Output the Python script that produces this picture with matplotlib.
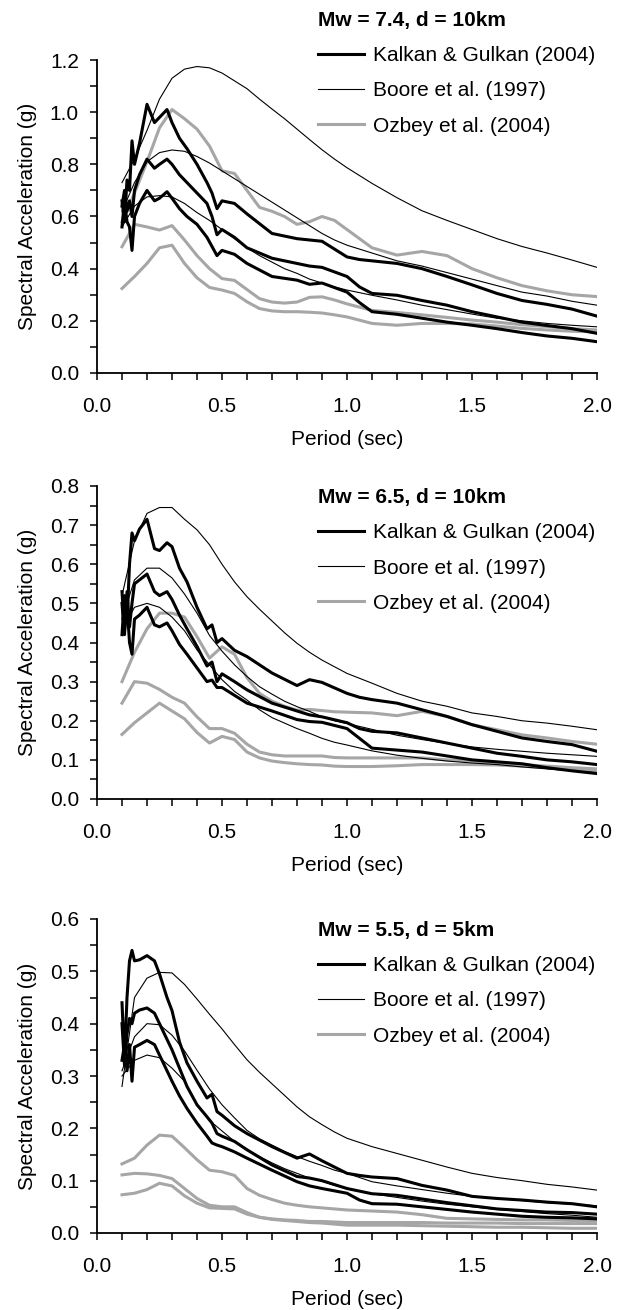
import numpy as np
import matplotlib.pyplot as plt
from matplotlib.ticker import MultipleLocator, FormatStrFormatter

plt.rcParams['font.family'] = ['Liberation Sans', 'DejaVu Sans']

# period grids (sec)
t_kalkan = [0.10, 0.11, 0.12, 0.13, 0.14, 0.15, 0.17, 0.20, 0.23, 0.25, 0.28, 0.30,
            0.33, 0.36, 0.40, 0.44, 0.46, 0.48, 0.50, 0.55, 0.60, 0.70, 0.80, 0.85,
            0.90, 1.00, 1.05, 1.10, 1.20, 1.30, 1.40, 1.50, 1.60, 1.70, 1.80, 1.90, 2.00]
t_smooth = [0.10, 0.15, 0.20, 0.25, 0.30, 0.35, 0.40, 0.45, 0.50, 0.55, 0.60, 0.65,
            0.70, 0.75, 0.80, 0.85, 0.90, 0.95, 1.00, 1.10, 1.20, 1.30, 1.40, 1.50,
            1.60, 1.70, 1.80, 1.90, 2.00]

# ---- Mw = 7.4, d = 10km
k1_74 = [0.66, 0.58, 0.74, 0.70, 0.89, 0.80, 0.88, 1.03, 0.96, 0.98, 1.01, 0.96, 0.90, 0.86,
         0.80, 0.73, 0.69, 0.63, 0.66, 0.65, 0.61, 0.535, 0.515, 0.51, 0.505, 0.445, 0.435,
         0.43, 0.42, 0.40, 0.37, 0.338, 0.305, 0.278, 0.263, 0.245, 0.218]
k2_74 = [0.64, 0.70, 0.62, 0.66, 0.60, 0.70, 0.76, 0.82, 0.785, 0.80, 0.82, 0.80, 0.76, 0.73,
         0.69, 0.65, 0.60, 0.53, 0.55, 0.52, 0.48, 0.44, 0.42, 0.41, 0.405, 0.37, 0.33,
         0.305, 0.298, 0.278, 0.26, 0.235, 0.215, 0.195, 0.182, 0.17, 0.152]
k3_74 = [0.56, 0.66, 0.58, 0.56, 0.47, 0.60, 0.65, 0.70, 0.66, 0.67, 0.695, 0.67, 0.63, 0.60,
         0.57, 0.52, 0.485, 0.45, 0.47, 0.455, 0.42, 0.37, 0.356, 0.34, 0.345, 0.31, 0.27,
         0.235, 0.225, 0.21, 0.195, 0.183, 0.17, 0.155, 0.142, 0.133, 0.12]
b1_74 = [0.73, 0.82, 0.93, 1.05, 1.13, 1.165, 1.175, 1.17, 1.15, 1.12, 1.09, 1.05, 1.012, 0.975,
         0.935, 0.895, 0.856, 0.82, 0.787, 0.727, 0.672, 0.622, 0.585, 0.55, 0.515, 0.485,
         0.46, 0.433, 0.405]
b2_74 = [0.62, 0.73, 0.81, 0.845, 0.855, 0.85, 0.83, 0.805, 0.775, 0.745, 0.715, 0.685, 0.655,
         0.625, 0.595, 0.565, 0.535, 0.51, 0.49, 0.46, 0.43, 0.41, 0.385, 0.36, 0.335, 0.31,
         0.295, 0.275, 0.26]
b3_74 = [0.56, 0.64, 0.675, 0.68, 0.675, 0.65, 0.615, 0.585, 0.55, 0.515, 0.48, 0.45, 0.425,
         0.40, 0.382, 0.36, 0.345, 0.33, 0.318, 0.298, 0.28, 0.26, 0.243, 0.226, 0.21, 0.20,
         0.19, 0.183, 0.177]
o1_74 = [0.58, 0.69, 0.81, 0.94, 1.01, 0.975, 0.935, 0.87, 0.775, 0.765, 0.70, 0.635, 0.62,
         0.60, 0.57, 0.58, 0.60, 0.585, 0.55, 0.48, 0.452, 0.466, 0.45, 0.40, 0.365, 0.335,
         0.315, 0.30, 0.293]
o2_74 = [0.484, 0.57, 0.56, 0.548, 0.565, 0.51, 0.45, 0.40, 0.362, 0.355, 0.32, 0.285, 0.272,
         0.268, 0.272, 0.29, 0.292, 0.28, 0.265, 0.24, 0.232, 0.223, 0.213, 0.203, 0.195,
         0.185, 0.178, 0.17, 0.165]
o3_74 = [0.324, 0.37, 0.42, 0.48, 0.49, 0.42, 0.365, 0.328, 0.318, 0.305, 0.273, 0.247, 0.238,
         0.235, 0.235, 0.233, 0.23, 0.223, 0.215, 0.19, 0.183, 0.19, 0.19, 0.188, 0.18, 0.171,
         0.165, 0.16, 0.158]

# ---- Mw = 6.5, d = 10km
k1_65 = [0.42, 0.52, 0.45, 0.60, 0.68, 0.66, 0.69, 0.715, 0.64, 0.635, 0.655, 0.645, 0.59,
         0.555, 0.49, 0.435, 0.445, 0.40, 0.41, 0.38, 0.364, 0.322, 0.29, 0.305, 0.298, 0.27,
         0.26, 0.254, 0.245, 0.228, 0.211, 0.19, 0.173, 0.156, 0.147, 0.139, 0.122]
k2_65 = [0.50, 0.42, 0.53, 0.44, 0.50, 0.55, 0.56, 0.575, 0.53, 0.52, 0.53, 0.51, 0.47, 0.435,
         0.39, 0.34, 0.35, 0.30, 0.32, 0.30, 0.279, 0.245, 0.225, 0.215, 0.21, 0.195, 0.18,
         0.173, 0.169, 0.156, 0.143, 0.13, 0.117, 0.109, 0.10, 0.095, 0.088]
k3_65 = [0.53, 0.43, 0.50, 0.40, 0.37, 0.46, 0.47, 0.49, 0.445, 0.44, 0.45, 0.43, 0.395, 0.37,
         0.335, 0.30, 0.304, 0.285, 0.285, 0.265, 0.245, 0.225, 0.203, 0.198, 0.196, 0.18,
         0.155, 0.13, 0.125, 0.12, 0.11, 0.10, 0.095, 0.09, 0.08, 0.072, 0.065]
b1_65 = [0.52, 0.66, 0.73, 0.745, 0.745, 0.715, 0.688, 0.65, 0.60, 0.555, 0.517, 0.485, 0.455,
         0.425, 0.398, 0.375, 0.355, 0.338, 0.321, 0.296, 0.27, 0.25, 0.237, 0.22, 0.211,
         0.20, 0.194, 0.186, 0.177]
b2_65 = [0.46, 0.56, 0.59, 0.59, 0.565, 0.524, 0.475, 0.418, 0.378, 0.343, 0.313, 0.287, 0.268,
         0.25, 0.236, 0.224, 0.21, 0.20, 0.193, 0.178, 0.163, 0.152, 0.142, 0.133, 0.127,
         0.122, 0.117, 0.113, 0.109]
b3_65 = [0.43, 0.49, 0.50, 0.49, 0.465, 0.43, 0.381, 0.343, 0.305, 0.275, 0.253, 0.228, 0.208,
         0.194, 0.18, 0.168, 0.155, 0.145, 0.138, 0.123, 0.112, 0.104, 0.097, 0.092, 0.088,
         0.082, 0.077, 0.072, 0.067]
o1_65 = [0.30, 0.375, 0.435, 0.475, 0.475, 0.465, 0.415, 0.36, 0.389, 0.37, 0.31, 0.27, 0.25,
         0.237, 0.227, 0.229, 0.226, 0.223, 0.222, 0.22, 0.213, 0.224, 0.211, 0.19, 0.177,
         0.164, 0.156, 0.147, 0.14]
o2_65 = [0.245, 0.30, 0.296, 0.28, 0.26, 0.245, 0.21, 0.18, 0.18, 0.168, 0.14, 0.12, 0.113,
         0.11, 0.11, 0.11, 0.11, 0.106, 0.105, 0.105, 0.105, 0.105, 0.10, 0.097, 0.093, 0.088,
         0.084, 0.08, 0.077]
o3_65 = [0.165, 0.195, 0.22, 0.245, 0.225, 0.205, 0.17, 0.143, 0.16, 0.152, 0.12, 0.105, 0.097,
         0.093, 0.09, 0.088, 0.087, 0.084, 0.083, 0.083, 0.085, 0.088, 0.088, 0.088, 0.087,
         0.084, 0.08, 0.076, 0.072]

# ---- Mw = 5.5, d = 5km
k1_55 = [0.44, 0.33, 0.45, 0.52, 0.54, 0.52, 0.522, 0.53, 0.52, 0.495, 0.45, 0.425, 0.365,
         0.325, 0.29, 0.258, 0.265, 0.232, 0.225, 0.205, 0.19, 0.165, 0.143, 0.151, 0.138,
         0.114, 0.11, 0.107, 0.104, 0.091, 0.082, 0.07, 0.066, 0.063, 0.059, 0.056, 0.05]
k2_55 = [0.40, 0.32, 0.38, 0.41, 0.40, 0.42, 0.426, 0.43, 0.42, 0.40, 0.37, 0.35, 0.315, 0.28,
         0.245, 0.222, 0.21, 0.19, 0.185, 0.175, 0.159, 0.13, 0.108, 0.105, 0.10, 0.085, 0.08,
         0.075, 0.072, 0.065, 0.058, 0.052, 0.046, 0.043, 0.04, 0.039, 0.036]
k3_55 = [0.33, 0.36, 0.31, 0.36, 0.29, 0.355, 0.36, 0.368, 0.36, 0.34, 0.31, 0.29, 0.262,
         0.238, 0.21, 0.185, 0.172, 0.168, 0.165, 0.155, 0.143, 0.12, 0.098, 0.09, 0.085,
         0.076, 0.063, 0.056, 0.055, 0.05, 0.045, 0.04, 0.036, 0.032, 0.03, 0.029, 0.027]
b1_55 = [0.28, 0.45, 0.487, 0.498, 0.497, 0.475, 0.447, 0.418, 0.39, 0.36, 0.331, 0.307, 0.285,
         0.263, 0.241, 0.222, 0.207, 0.193, 0.181, 0.165, 0.152, 0.139, 0.126, 0.114, 0.106,
         0.10, 0.093, 0.088, 0.082]
b2_55 = [0.31, 0.375, 0.40, 0.398, 0.378, 0.348, 0.311, 0.275, 0.245, 0.22, 0.196, 0.18, 0.168,
         0.156, 0.146, 0.137, 0.129, 0.12, 0.114, 0.098, 0.09, 0.083, 0.076, 0.07, 0.066,
         0.062, 0.058, 0.055, 0.052]
b3_55 = [0.30, 0.33, 0.34, 0.335, 0.315, 0.29, 0.246, 0.215, 0.195, 0.175, 0.16, 0.146, 0.134,
         0.123, 0.114, 0.105, 0.099, 0.091, 0.085, 0.075, 0.068, 0.061, 0.055, 0.05, 0.045,
         0.041, 0.037, 0.034, 0.03]
o1_55 = [0.132, 0.143, 0.168, 0.187, 0.185, 0.163, 0.14, 0.12, 0.117, 0.11, 0.085, 0.072, 0.064,
         0.057, 0.053, 0.05, 0.048, 0.046, 0.044, 0.042, 0.04, 0.035, 0.028, 0.027, 0.026,
         0.025, 0.025, 0.024, 0.024]
o2_55 = [0.111, 0.114, 0.113, 0.11, 0.104, 0.085, 0.066, 0.053, 0.05, 0.05, 0.039, 0.03, 0.027,
         0.025, 0.024, 0.022, 0.022, 0.021, 0.02, 0.02, 0.02, 0.02, 0.019, 0.019, 0.019, 0.018,
         0.018, 0.018, 0.018]
o3_55 = [0.073, 0.076, 0.083, 0.095, 0.09, 0.071, 0.057, 0.048, 0.047, 0.046, 0.036, 0.03, 0.026,
         0.024, 0.022, 0.02, 0.019, 0.017, 0.015, 0.015, 0.015, 0.014, 0.013, 0.012, 0.011,
         0.011, 0.01, 0.009, 0.009]

titles = ['Mw = 7.4, d = 10km', 'Mw = 6.5, d = 10km', 'Mw = 5.5, d = 5km']
labels = ['Kalkan & Gulkan (2004)', 'Boore et al. (1997)', 'Ozbey et al. (2004)']
ymax = [1.2, 0.8, 0.6]
ymajor = [0.2, 0.1, 0.1]
yminor = [0.1, 0.05, 0.05]

panels = [
    ([k1_74, k2_74, k3_74], [b1_74, b2_74, b3_74], [o1_74, o2_74, o3_74]),
    ([k1_65, k2_65, k3_65], [b1_65, b2_65, b3_65], [o1_65, o2_65, o3_65]),
    ([k1_55, k2_55, k3_55], [b1_55, b2_55, b3_55], [o1_55, o2_55, o3_55]),
]

W, H = 629, 1310
fig = plt.figure(figsize=(W / 100, H / 100), dpi=100)

ax_top = [60, 486, 919]      # pixel rows of y max
ax_bot = [373, 799, 1233]    # pixel rows of y = 0
leg_top = [11, 488, 921]
gray = '#a6a6a6'

for i in range(3):
    ax = fig.add_axes([97 / W, 1 - ax_bot[i] / H, 500 / W, (ax_bot[i] - ax_top[i]) / H])
    kal, boo, ozb = panels[i]
    h = [None, None, None]
    for s in ozb:
        h[2], = ax.plot(t_smooth, s, color=gray, lw=2.2, solid_joinstyle='round')
    for s in boo:
        h[1], = ax.plot(t_smooth, s, color='k', lw=0.8)
    for s in kal:
        h[0], = ax.plot(t_kalkan, s, color='k', lw=2.2, solid_joinstyle='round')

    ax.set_xlim(0, 2.0)
    ax.set_ylim(0, ymax[i])
    ax.xaxis.set_major_locator(MultipleLocator(0.5))
    ax.xaxis.set_minor_locator(MultipleLocator(0.1))
    ax.yaxis.set_major_locator(MultipleLocator(ymajor[i]))
    ax.yaxis.set_minor_locator(MultipleLocator(yminor[i]))
    ax.xaxis.set_major_formatter(FormatStrFormatter('%.1f'))
    ax.yaxis.set_major_formatter(FormatStrFormatter('%.1f'))
    ax.spines['top'].set_color('none')
    ax.spines['right'].set_color('none')
    ax.spines['left'].set_linewidth(1.3)
    ax.spines['bottom'].set_linewidth(1.3)
    ax.tick_params(axis='both', which='both', direction='out', length=5, width=1.1)
    ax.tick_params(axis='x', which='major', labelsize=15, pad=12.5)
    ax.tick_params(axis='y', which='major', labelsize=15, pad=8)
    ax.set_xlabel('Period (sec)', fontsize=15)
    ax.set_ylabel('Spectral Acceleration (g)', fontsize=15)
    ax.xaxis.set_label_coords(0.5, -57 / (ax_bot[i] - ax_top[i]))
    ax.yaxis.set_label_coords(-0.12, 0.5)

    leg = ax.legend(h, labels, title=titles[i], loc='upper left',
                    bbox_to_anchor=(318 / W, 1 - leg_top[i] / H),
                    bbox_transform=fig.transFigure, frameon=False, fontsize=15,
                    handlelength=2.2, handletextpad=0.45, labelspacing=0.78,
                    borderpad=0, borderaxespad=0, alignment='left')
    leg.get_title().set_fontsize(15)
    leg.get_title().set_fontweight('bold')

fig.savefig('out.png', dpi=100)
